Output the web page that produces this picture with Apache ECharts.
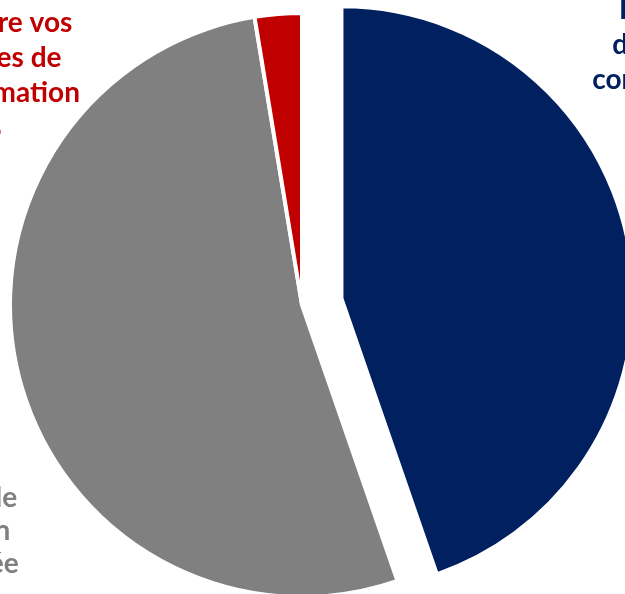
<!DOCTYPE html>
<html>
<head>
<meta charset="utf-8">
<script src="https://cdn.jsdelivr.net/npm/echarts@6/dist/echarts.min.js"></script>
<style>
html,body{margin:0;padding:0;background:#fff;}
#chart{width:625px;height:594px;}
</style>
</head>
<body>
<div id="chart"></div>
<script>
// Data
var categories = [
  "Faire évoluer\nde formations\ncomplémentaires",
  "Maintenir le\nmême plan\npour l'année",
  "Construire vos\nstratégies de\nvotre formation"
];
var shares = [44.7, 52.7, 2.6];
var percentLabels = ["45%", "53%", "3%"];
var colors = ["#002060", "#808080", "#C00000"];

var chart = echarts.init(document.getElementById('chart'), null, {renderer: 'canvas'});

var pieCenter = [302, 305];
var explode = 40; // offset of the detached (first) slice
var total = shares.reduce(function (a, b) { return a + b; }, 0);
var midAngle = (shares[0] / total) * Math.PI; // bisector, clockwise from 12 o'clock
var explodedCenter = [pieCenter[0] + explode * Math.sin(midAngle),
                      pieCenter[1] - explode * Math.cos(midAngle)];

var labelPos = [
  {x: 699, y: -8, lh: 35},
  {x: -58, y: 481, lh: 33},
  {x: -18, y: 5, lh: 35}
];

var labelBase = {
  show: true,
  position: 'outside',
  fontFamily: 'Lato',
  fontWeight: 'bold',
  fontSize: 28,
  width: 320,
  overflow: 'none',
  align: 'center',
  formatter: function (p) {
    var i = p.data.idx;
    return categories[i] + '\n' + percentLabels[i];
  }
};

function makeItem(i) {
  return {
    value: shares[i],
    name: categories[i],
    idx: i,
    itemStyle: {color: colors[i]},
    label: {color: colors[i], lineHeight: labelPos[i].lh}
  };
}
function placeholder(v) {
  return {
    value: v,
    name: '',
    itemStyle: {color: 'rgba(0,0,0,0)', borderWidth: 0},
    label: {show: false}
  };
}

var commonSeries = {
  type: 'pie',
  radius: 292,
  startAngle: 90,
  clockwise: true,
  avoidLabelOverlap: false,
  silent: true,
  itemStyle: {borderColor: '#ffffff', borderWidth: 4},
  emphasis: {disabled: true},
  labelLine: {show: false},
  label: labelBase
};

var option = {
  animation: false,
  series: [
    Object.assign({}, commonSeries, {
      center: explodedCenter,
      labelLayout: function (p) { var lp = labelPos[0]; return {x: lp.x, y: lp.y, align: 'center', verticalAlign: 'top'}; },
      data: [makeItem(0), placeholder(shares[1] + shares[2])]
    }),
    Object.assign({}, commonSeries, {
      center: pieCenter,
      labelLayout: function (p) { var lp = labelPos[p.dataIndex]; return {x: lp.x, y: lp.y, align: 'center', verticalAlign: 'top'}; },
      data: [placeholder(shares[0]), makeItem(1), makeItem(2)]
    })
  ]
};
chart.setOption(option);
</script>
</body>
</html>
